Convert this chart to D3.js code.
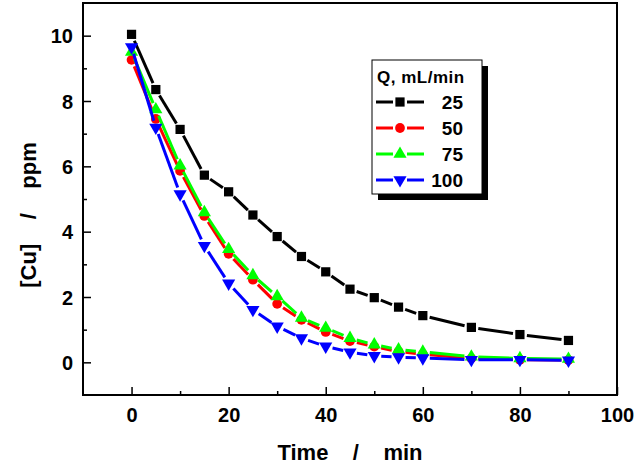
<!DOCTYPE html>
<html>
<head>
<meta charset="utf-8">
<script src="https://cdn.jsdelivr.net/npm/d3@7"></script>
<style>
  body { margin: 0; background: #fff; }
  text { font-family: "Liberation Sans", Arial, sans-serif; font-weight: bold; }
</style>
</head>
<body>
<svg id="chart" width="636" height="470"></svg>
<script>
// data
var times = [0, 5, 10, 15, 20, 25, 30, 35, 40, 45, 50, 55, 60, 70, 80, 90];
var flowRates = ["25", "50", "75", "100"];
var cu25 = [10.04, 8.35, 7.13, 5.73, 5.22, 4.51, 3.85, 3.24, 2.77, 2.24, 1.98, 1.69, 1.43, 1.07, 0.85, 0.67];
var cu50 = [9.26, 7.45, 5.86, 4.48, 3.32, 2.53, 1.79, 1.30, 0.93, 0.65, 0.48, 0.33, 0.25, 0.12, 0.08, 0.07];
var cu75 = [9.50, 7.74, 6.02, 4.59, 3.46, 2.66, 2.02, 1.36, 1.05, 0.74, 0.54, 0.39, 0.32, 0.17, 0.12, 0.10];
var cu100 = [9.65, 7.19, 5.15, 3.57, 2.42, 1.61, 1.10, 0.74, 0.49, 0.31, 0.20, 0.16, 0.13, 0.08, 0.08, 0.06];
var xTicks = [0, 20, 40, 60, 80, 100];
var yTicks = [0, 2, 4, 6, 8, 10];

var series = [
    {name: flowRates[0], values: cu25, color: "#000000", symbol: d3.symbolSquare, size: 85, rot: 0},
    {name: flowRates[1], values: cu50, color: "#ff0000", symbol: d3.symbolCircle, size: 75, rot: 0},
    {name: flowRates[2], values: cu75, color: "#00ff00", symbol: d3.symbolTriangle, size: 75, rot: 0},
    {name: flowRates[3], values: cu100, color: "#0000ff", symbol: d3.symbolTriangle, size: 75, rot: 180}
];

var svg = d3.select("#chart"),
    plotLeft = 83, plotRight = 617, plotTop = 3, plotBottom = 395;

var x = d3.scaleLinear().domain([-10, 100]).range([plotLeft, plotRight]);
var y = d3.scaleLinear().domain([-1, 11]).range([plotBottom, plotTop]);

// frame
svg.append("rect")
    .attr("x", plotLeft).attr("y", plotTop)
    .attr("width", plotRight - plotLeft).attr("height", plotBottom - plotTop)
    .attr("fill", "none").attr("stroke", "#000").attr("stroke-width", 2);

// axes, ticks pointing inward
var xAxis = svg.append("g").attr("transform", "translate(0," + plotBottom + ")")
    .call(d3.axisBottom(x).tickValues(xTicks).tickSize(-8).tickFormat(d3.format("d")));
svg.append("g").attr("transform", "translate(0," + plotBottom + ")")
    .call(d3.axisBottom(x).tickValues([10, 30, 50, 70, 90]).tickSize(-4).tickFormat(""));
var yAxis = svg.append("g").attr("transform", "translate(" + plotLeft + ",0)")
    .call(d3.axisLeft(y).tickValues(yTicks).tickSize(-8).tickFormat(d3.format("d")));
svg.append("g").attr("transform", "translate(" + plotLeft + ",0)")
    .call(d3.axisLeft(y).tickValues([1, 3, 5, 7, 9]).tickSize(-4).tickFormat(""));

svg.selectAll(".domain").remove();
svg.selectAll(".tick line").attr("stroke", "#000").attr("stroke-width", 1.5);
svg.selectAll(".tick text").attr("fill", "#000").style("font-size", "20px");
xAxis.selectAll(".tick text").attr("y", 27).attr("dy", 0);
yAxis.selectAll(".tick text").attr("x", -10).attr("dy", "0.36em");

// axis titles
svg.append("text")
    .attr("x", (plotLeft + plotRight) / 2).attr("y", 460)
    .attr("text-anchor", "middle")
    .style("font-size", "22px")
    .attr("xml:space", "preserve")
    .text("Time    /    min");
svg.append("text")
    .attr("transform", "translate(36,215) rotate(-90)")
    .attr("text-anchor", "middle")
    .style("font-size", "22px")
    .attr("xml:space", "preserve")
    .text("[Cu]    /    ppm");

// lines drawn as segments with a gap at each marker
var GAP = 7;
function segments(vals) {
    var out = [];
    for (var i = 0; i < vals.length - 1; i++) {
        var x1 = x(times[i]), y1 = y(vals[i]), x2 = x(times[i + 1]), y2 = y(vals[i + 1]);
        var len = Math.sqrt((x2 - x1) * (x2 - x1) + (y2 - y1) * (y2 - y1));
        if (len <= 2 * GAP) continue;
        var ux = (x2 - x1) / len, uy = (y2 - y1) / len;
        out.push([x1 + ux * GAP, y1 + uy * GAP, x2 - ux * GAP, y2 - uy * GAP]);
    }
    return out;
}

series.forEach(function(s) {
    var g = svg.append("g");
    g.selectAll("line")
        .data(segments(s.values))
        .enter().append("line")
        .attr("x1", function(d) { return d[0]; })
        .attr("y1", function(d) { return d[1]; })
        .attr("x2", function(d) { return d[2]; })
        .attr("y2", function(d) { return d[3]; })
        .attr("stroke", s.color).attr("stroke-width", 3);
    g.selectAll("path")
        .data(s.values)
        .enter().append("path")
        .attr("d", d3.symbol().type(s.symbol).size(s.size))
        .attr("transform", function(d, i) {
            return "translate(" + x(times[i]) + "," + y(d) + ") rotate(" + s.rot + ")";
        })
        .attr("fill", s.color);
});

// legend with drop shadow
var lg = svg.append("g").attr("transform", "translate(372,60)");
lg.append("rect").attr("x", 6).attr("y", 6).attr("width", 110).attr("height", 134).attr("fill", "#000");
lg.append("rect").attr("width", 110).attr("height", 134)
    .attr("fill", "#fff").attr("stroke", "#000").attr("stroke-width", 1);
lg.append("text").attr("x", 5).attr("y", 23)
    .style("font-size", "17px").style("letter-spacing", "0.5px")
    .text("Q, mL/min");

series.forEach(function(s, i) {
    var cy = 42 + i * 26;
    lg.append("line").attr("x1", 4).attr("x2", 21).attr("y1", cy).attr("y2", cy)
        .attr("stroke", s.color).attr("stroke-width", 3);
    lg.append("line").attr("x1", 35).attr("x2", 52).attr("y1", cy).attr("y2", cy)
        .attr("stroke", s.color).attr("stroke-width", 3);
    lg.append("path")
        .attr("d", d3.symbol().type(s.symbol).size(s.size))
        .attr("transform", "translate(28," + cy + ") rotate(" + s.rot + ")")
        .attr("fill", s.color);
    lg.append("text").attr("x", 91).attr("y", cy + 7)
        .attr("text-anchor", "end")
        .style("font-size", "19px")
        .text(s.name);
});
</script>
</body>
</html>
